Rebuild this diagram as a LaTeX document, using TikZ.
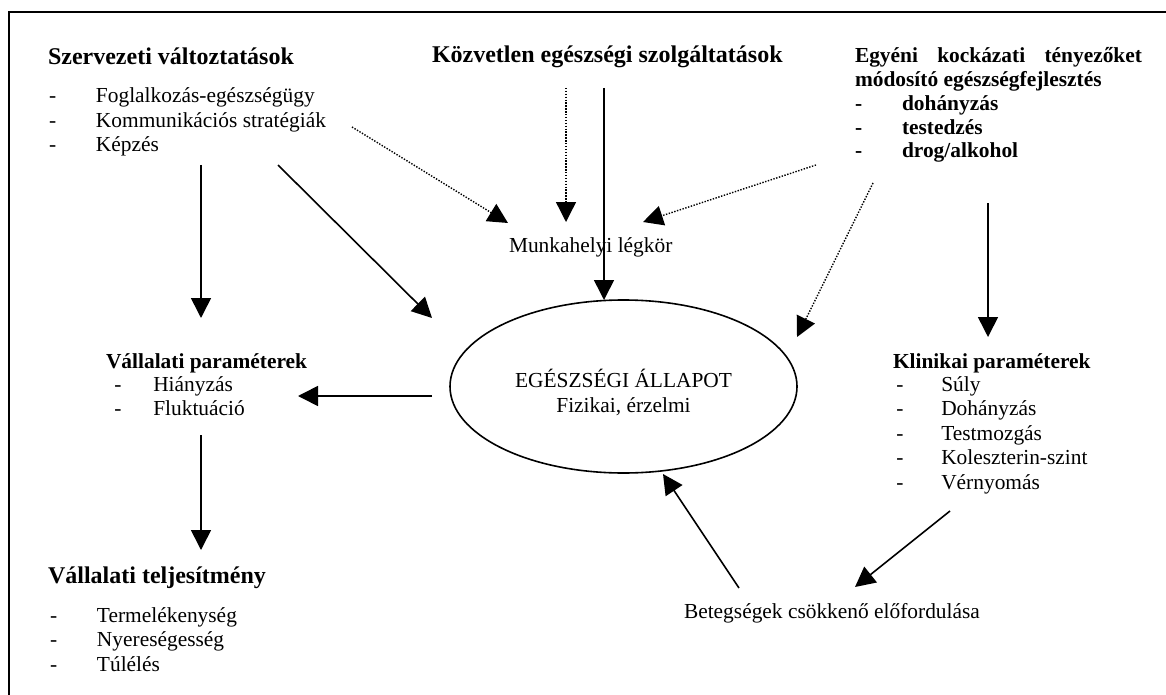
\documentclass[tikz,border=0pt]{standalone}
\usepackage{fontspec}
\setmainfont{Liberation Serif}
\usetikzlibrary{arrows.meta,shapes.geometric}
\newcommand{\ditem}[2]{\makebox[#1][l]{-}#2}
\begin{document}
\begin{tikzpicture}[x=1pt,y=-1pt,
  txt/.style={anchor=base west, inner sep=0pt, outer sep=0pt},
  reg/.style={font=\fontsize{21.4}{24.5}\selectfont},
  elfont/.style={font=\fontsize{21.4}{25}\selectfont},
  bigb/.style={font=\fontsize{24}{28}\selectfont\bfseries},
  smb/.style={font=\fontsize{21.4}{23.7}\selectfont\bfseries},
  arr/.style={line width=1.6pt, -{Triangle[length=20pt,width=20pt]}},
  darr/.style={line width=1.4pt, dash pattern=on 1.4pt off 1.5pt, -{Triangle[length=20pt,width=20pt]}},
  framestyle/.style={line width=2.2pt}]
\useasboundingbox (0,0) rectangle (1166,695);
\draw[framestyle] (9,695) -- (9,12) -- (1166,12);

% text blocks
\node[txt,bigb] (szerv) at (48,65) {Szervezeti változtatások};
\node[txt,reg] (szervlist) at (49,103) {\begin{tabular}[t]{@{}l@{}}\ditem{47pt}{Foglalkozás-egészségügy}\\ \ditem{47pt}{Kommunikációs stratégiák}\\ \ditem{47pt}{Képzés}\end{tabular}};
\node[txt,bigb] (kozv) at (432,63) {Közvetlen egészségi szolgáltatások};
\node[txt,smb] (egyeni) at (855,63) {\begin{tabular}[t]{@{}l@{}}\makebox[287pt][l]{Egyéni\hfill kockázati\hfill tényezőket}\\ módosító egészségfejlesztés\\ \ditem{47pt}{dohányzás}\\ \ditem{47pt}{testedzés}\\ \ditem{47pt}{drog/alkohol}\end{tabular}};
\node[txt,reg] (munka) at (509,252) {Munkahelyi légkör};
\node[ellipse, draw, line width=1.6pt, minimum width=347pt, minimum height=173pt, inner sep=0pt] (ell) at (623.5,386.5) {};
\node[anchor=base, inner sep=0pt, elfont] (ellt) at (623.5,387) {\begin{tabular}[t]{@{}c@{}}EGÉSZSÉGI ÁLLAPOT\hspace{16pt}\\ Fizikai, érzelmi\end{tabular}};
\node[txt,smb] (valpar) at (106,368) {Vállalati paraméterek};
\node[txt,reg] (valparlist) at (114.3,391) {\begin{tabular}[t]{@{}l@{}}\ditem{39pt}{Hiányzás}\\ \ditem{39pt}{Fluktuáció}\end{tabular}};
\node[txt,bigb] (valtel) at (48,583) {Vállalati teljesítmény};
\node[txt,reg] (valtellist) at (50,622) {\begin{tabular}[t]{@{}l@{}}\ditem{47pt}{Termelékenység}\\ \ditem{47pt}{Nyereségesség}\\ \ditem{47pt}{Túlélés}\end{tabular}};
\node[txt,smb] (klin) at (893,368) {Klinikai paraméterek};
\node[txt,reg] (klinlist) at (896.3,391) {\begin{tabular}[t]{@{}l@{}}\ditem{45pt}{Súly}\\ \ditem{45pt}{Dohányzás}\\ \ditem{45pt}{Testmozgás}\\ \ditem{45pt}{Koleszterin-szint}\\ \ditem{45pt}{Vérnyomás}\end{tabular}};
\node[txt,reg] (beteg) at (684,618) {Betegségek csökkenő előfordulása};

% connector end points
\coordinate (sA) at (201,165); \coordinate (sAt) at (201,318);
\coordinate (sB) at (278,165); \coordinate (sBt) at (432,318);
\coordinate (sC) at (352,127); \coordinate (sCt) at (508,223);
\coordinate (kA) at (566,88);  \coordinate (kAt) at (566,222);
\coordinate (kB) at (604,88);  \coordinate (kBt) at (604,300);
\coordinate (eA) at (816,165); \coordinate (eAt) at (643,222);
\coordinate (eB) at (873,183); \coordinate (eBt) at (797,337);
\coordinate (eC) at (988,203); \coordinate (eCt) at (988,337);
\coordinate (lL) at (432,396); \coordinate (lLt) at (298,396);
\coordinate (vP) at (201,435); \coordinate (vPt) at (201,550);
\coordinate (kL) at (950,511); \coordinate (kLt) at (855,587);
\coordinate (bT) at (739,588); \coordinate (bTt) at (663,474);

\draw[arr] (sA) -- (sAt);
\draw[arr] (sB) -- (sBt);
\draw[darr] (sC) -- (sCt);
\draw[darr] (kA) -- (kAt);
\draw[arr] (kB) -- (kBt);
\draw[darr] (eA) -- (eAt);
\draw[darr] (eB) -- (eBt);
\draw[arr] (eC) -- (eCt);
\draw[arr] (lL) -- (lLt);
\draw[arr] (vP) -- (vPt);
\draw[arr] (kL) -- (kLt);
\draw[arr] (bT) -- (bTt);
\end{tikzpicture}
\end{document}
